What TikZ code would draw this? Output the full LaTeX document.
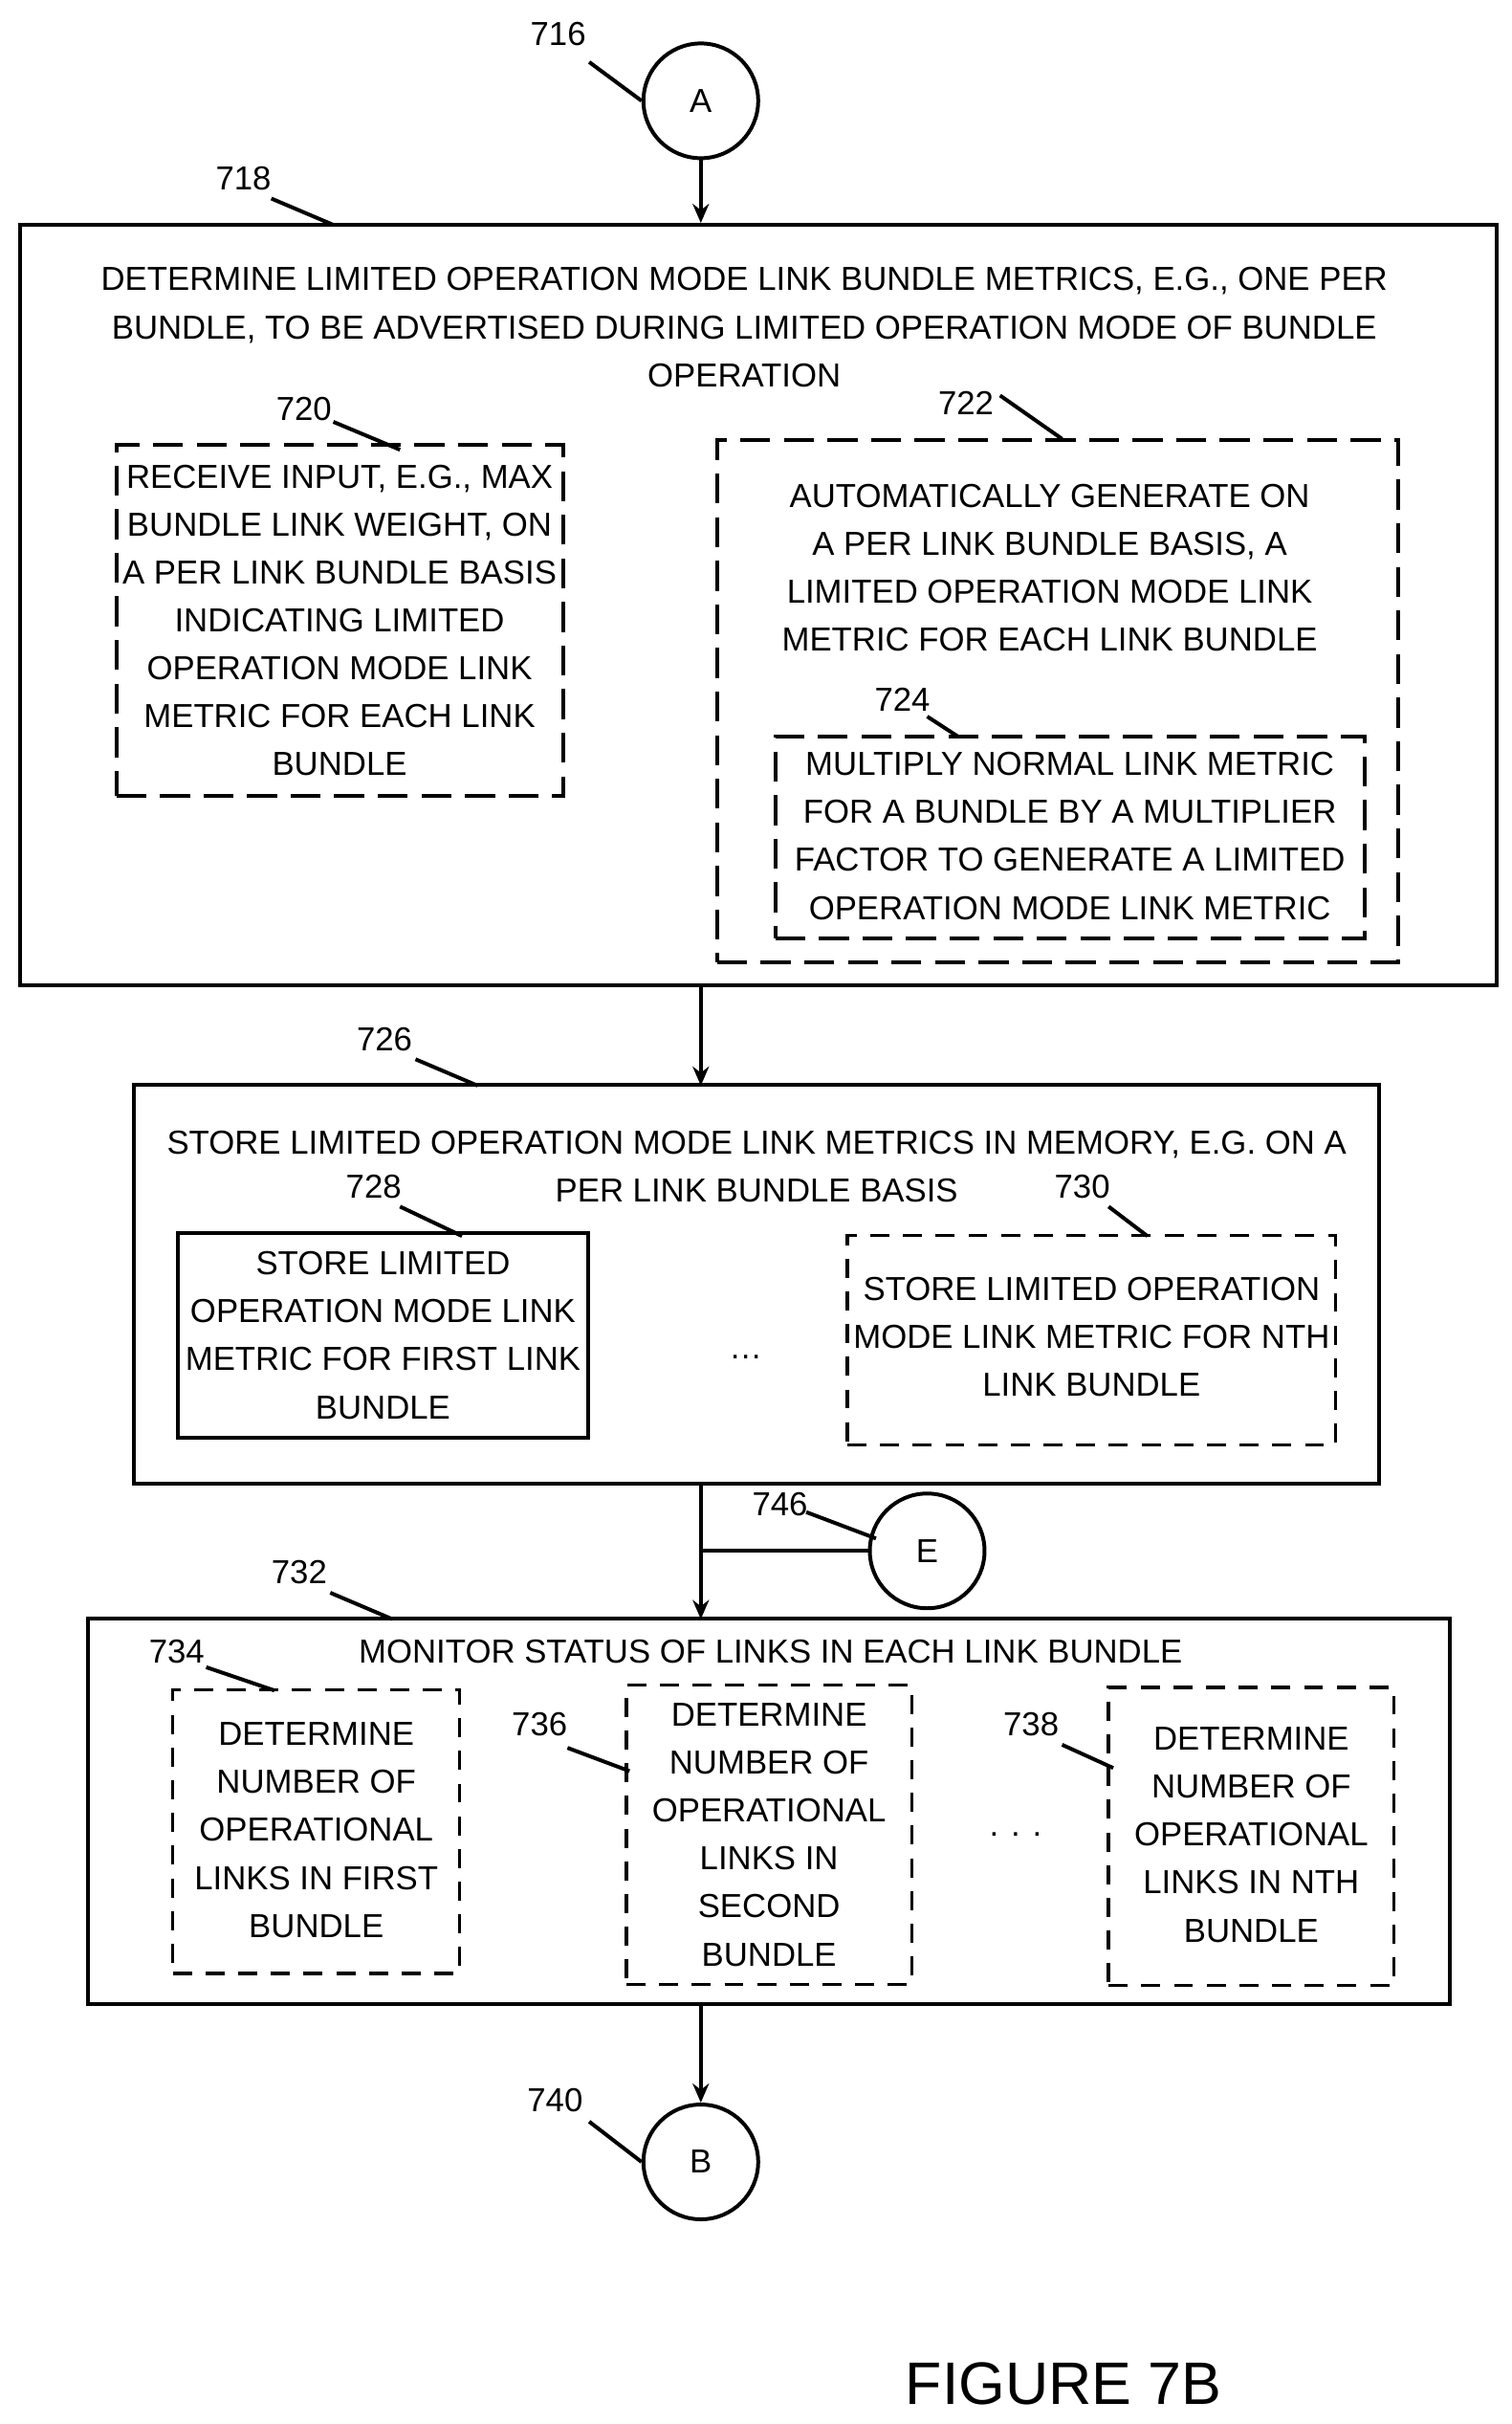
\documentclass[tikz,border=0pt]{standalone}
\usepackage{fontspec}
\setmainfont{Liberation Sans}
\usetikzlibrary{arrows.meta}

\begin{document}
\def\u{0.02cm}
\begin{tikzpicture}[x=0.02cm,y=-0.02cm,
    font=\fontsize{12.2}{17.6}\selectfont,
    box/.style={draw,line width=1.4pt,inner sep=0pt},
    dbox/.style={draw,line width=1.4pt,dash pattern=on 11pt off 5pt,inner sep=0pt},
    sbox/.style={draw,line width=1.2pt,dash pattern=on 7pt off 5pt,inner sep=0pt},
    conn/.style={draw,circle,line width=1.4pt,minimum size=74*\u,inner sep=0pt},
    txt/.style={align=center,inner sep=0pt},
    arr/.style={line width=1.4pt,-{Stealth[length=7pt,width=6pt]}},
    lead/.style={line width=1.4pt}]
    \useasboundingbox (0,0) rectangle (975,1563);

    % connector A and first box
    \node[conn] (a) at (452,65) {A};
    \node[txt] (l716) at (360,22) {716};
    \draw[lead] (380,40) -- (a.west);

    \node[box,minimum width=952*\u,minimum height=490*\u] (b718) at (489,390) {};
    \node[txt] (l718) at (157,115) {718};
    \draw[lead] (175,128) -- (215,145);
    \node[txt] (t718) at (480,211) {DETERMINE LIMITED OPERATION MODE LINK BUNDLE METRICS, E.G., ONE PER\\BUNDLE, TO BE ADVERTISED DURING LIMITED OPERATION MODE OF BUNDLE\\OPERATION};

    \node[dbox,minimum width=288*\u,minimum height=226*\u] (b720) at (219,400) {};
    \node[txt] at (219,400) {RECEIVE INPUT, E.G., MAX\\BUNDLE LINK WEIGHT, ON\\A PER LINK BUNDLE BASIS\\INDICATING LIMITED\\OPERATION MODE LINK\\METRIC FOR EACH LINK\\BUNDLE};
    \node[txt] (l720) at (196,264) {720};
    \draw[lead] (215,272) -- (258,290);

    \node[dbox,minimum width=439*\u,minimum height=337*\u] (b722) at (682,452) {};
    \node[txt] at (677,366) {AUTOMATICALLY GENERATE ON\\A PER LINK BUNDLE BASIS, A\\LIMITED OPERATION MODE LINK\\METRIC FOR EACH LINK BUNDLE};
    \node[txt] (l722) at (623,260) {722};
    \draw[lead] (645,255) -- (685,283);

    \node[dbox,minimum width=380*\u,minimum height=130*\u] (b724) at (690,540) {};
    \node[txt] at (690,539) {MULTIPLY NORMAL LINK METRIC\\FOR A BUNDLE BY A MULTIPLIER\\FACTOR TO GENERATE A LIMITED\\OPERATION MODE LINK METRIC};
    \node[txt] (l724) at (582,451) {724};
    \draw[lead] (598,462) -- (618,475);

    \draw[arr] (a.south) -- (a.south |- b718.north);

    % second box
    \node[box,minimum width=803*\u,minimum height=257*\u] (b726) at (488,828) {};
    \node[txt] (l726) at (248,670) {726};
    \draw[lead] (268,683) -- (308,700);
    \node[txt] at (488,752) {STORE LIMITED OPERATION MODE LINK METRICS IN MEMORY, E.G. ON A\\PER LINK BUNDLE BASIS};
    \draw[arr] (452,635) -- (452,700);

    \node[box,minimum width=265*\u,minimum height=132*\u] (b728) at (247,861) {};
    \node[txt] at (247,861) {STORE LIMITED\\OPERATION MODE LINK\\METRIC FOR FIRST LINK\\BUNDLE};
    \node[txt] (l728) at (241,765) {728};
    \draw[lead] (258,778) -- (298,797);

    \node[sbox,minimum width=315*\u,minimum height=135*\u] (b730) at (704,864) {};
    \node[txt] at (704,862) {STORE LIMITED OPERATION\\MODE LINK METRIC FOR NTH\\LINK BUNDLE};
    \node[txt] (l730) at (698,765) {730};
    \draw[lead] (715,778) -- (740,797);
    \node[txt] at (481,875) {\dots};

    % connector E and third box
    \node[box,minimum width=878*\u,minimum height=249*\u] (b732) at (496,1168) {};
    \node[txt] (l732) at (193,1014) {732};
    \draw[lead] (213,1027) -- (253,1044);
    \draw[arr] (452,957) -- (452,1044);
    \node[conn] (e) at (598,1000) {E};
    \draw[lead] (452,1000) -- (e.west);
    \node[txt] (l746) at (503,970) {746};
    \draw[lead] (520,975) -- (565,992);
    \node[txt] at (497,1065) {MONITOR STATUS OF LINKS IN EACH LINK BUNDLE};

    \node[sbox,minimum width=185*\u,minimum height=183*\u] (b734) at (204,1181) {};
    \node[txt] at (204,1180) {DETERMINE\\NUMBER OF\\OPERATIONAL\\LINKS IN FIRST\\BUNDLE};
    \node[txt] (l734) at (114,1065) {734};
    \draw[lead] (133,1075) -- (177,1090);

    \node[sbox,minimum width=184*\u,minimum height=193*\u] (b736) at (496,1183) {};
    \node[txt] at (496,1183) {DETERMINE\\NUMBER OF\\OPERATIONAL\\LINKS IN\\SECOND\\BUNDLE};
    \node[txt] (l736) at (348,1112) {736};
    \draw[lead] (366,1127) -- (406,1142);

    \node[sbox,minimum width=184*\u,minimum height=192*\u] (b738) at (807,1184) {};
    \node[txt] at (807,1183) {DETERMINE\\NUMBER OF\\OPERATIONAL\\LINKS IN NTH\\BUNDLE};
    \node[txt] (l738) at (665,1112) {738};
    \draw[lead] (685,1125) -- (718,1140);
    \node[txt] at (655,1183) {. . .};

    % connector B
    \node[conn] (b) at (452,1394) {B};
    \draw[arr] (b732.south -| b) -- (b.north);
    \node[txt] (l740) at (358,1354) {740};
    \draw[lead] (380,1368) -- (b.west);

    \node[txt,font=\fontsize{22}{26}\selectfont] (fig) at (686,1537) {FIGURE 7B};
\end{tikzpicture}
\end{document}
